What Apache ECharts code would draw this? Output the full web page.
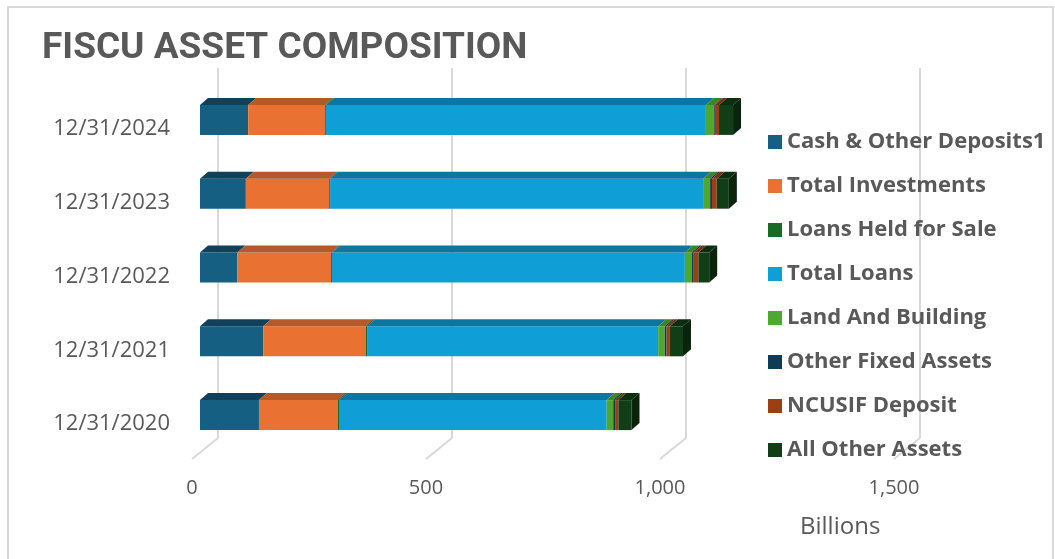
<!DOCTYPE html>
<html>
<head>
<meta charset="utf-8">
<script src="https://cdn.jsdelivr.net/npm/echarts@6/dist/echarts.min.js"></script>
<style>
  body { margin: 0; background: #fff; }
  #main { width: 1055px; height: 559px; }
</style>
</head>
<body>
<div id="main"></div>
<script>
var dates = ["12/31/2020", "12/31/2021", "12/31/2022", "12/31/2023", "12/31/2024"];
var cash = [126, 135, 80, 98, 103];
var investments = [168, 219, 200, 178, 164];
var loansHeldForSale = [3, 3, 2, 2, 2];
var totalLoans = [572, 622, 754, 797, 812];
var landBuilding = [14, 14, 15, 15, 17];
var otherFixed = [4, 4, 4, 4, 2];
var ncusif = [7, 7, 10, 10, 9];
var allOther = [28, 28, 23, 26, 30];
var xTicks = [0, 500, 1000, 1500];

var groups = [
  { name: "Cash & Other Deposits1", values: cash, color: "#156082", top: "#11405a" },
  { name: "Total Investments", values: investments, color: "#E97132", top: "#b3592a" },
  { name: "Loans Held for Sale", values: loansHeldForSale, color: "#196B24", top: "#124d1a" },
  { name: "Total Loans", values: totalLoans, color: "#0F9ED5", top: "#0c76a0" },
  { name: "Land And Building", values: landBuilding, color: "#4EA72E", top: "#3b8623" },
  { name: "Other Fixed Assets", values: otherFixed, color: "#0F3B57", top: "#0a2a3e" },
  { name: "NCUSIF Deposit", values: ncusif, color: "#9B4013", top: "#7a300e" },
  { name: "All Other Assets", values: allOther, color: "#113E17", top: "#0c2e10", side: "#0a240c" }
];

var textColor = "#595959";
var lineColor = "#d9d9d9";

function segRenderer(top, side) {
  return function (params, api) {
    var idx = api.value(2);
    var p0 = api.coord([api.value(0), idx]);
    var p1 = api.coord([api.value(1), idx]);
    var h = 30, dx = 8, dy = 7;
    var x0 = p0[0], x1 = p1[0];
    var yt = p0[1] - h / 2, yb = p0[1] + h / 2;
    var children = [
      { type: "rect", shape: { x: x0, y: yt, width: x1 - x0, height: h }, style: { fill: api.visual("color") } },
      { type: "polygon", shape: { points: [[x0, yt], [x1, yt], [x1 + dx, yt - dy], [x0 + dx, yt - dy]] }, style: { fill: top } }
    ];
    if (side) {
      children.push({ type: "polygon", shape: { points: [[x1, yt], [x1 + dx, yt - dy], [x1 + dx, yb - dy], [x1, yb]] }, style: { fill: side } });
    }
    return { type: "group", children: children };
  };
}

// stack the segments
var running = dates.map(function () { return 0; });
var barSeries = groups.map(function (g) {
  var data = g.values.map(function (v, i) {
    var item = [running[i], running[i] + v, i];
    running[i] += v;
    return item;
  });
  return {
    name: g.name,
    type: "custom",
    xAxisIndex: 1,
    yAxisIndex: 1,
    itemStyle: { color: g.color },
    renderItem: segRenderer(g.top, g.side),
    encode: { x: [0, 1], y: 2 },
    data: data,
    z: 3
  };
});

// slanted floor lines under the back wall gridlines
var floorSeries = {
  type: "custom",
  xAxisIndex: 0,
  yAxisIndex: 0,
  silent: true,
  renderItem: function (params, api) {
    var p = api.coord([api.value(0), 0]);
    return {
      type: "line",
      shape: { x1: p[0], y1: p[1], x2: p[0] - 26, y2: p[1] + 21 },
      style: { stroke: lineColor, lineWidth: 2 }
    };
  },
  data: xTicks.map(function (v) { return [v, 0]; }),
  z: 1
};

var option = {
  animation: false,
  title: [
    {
      text: "FISCU ASSET COMPOSITION",
      left: 42,
      top: 30,
      padding: 0,
      textStyle: { fontFamily: "Roboto", fontWeight: "bold", fontSize: 37, color: textColor }
    },
    {
      text: "Billions",
      left: 800,
      top: 515,
      padding: 0,
      textStyle: { fontFamily: "Open Sans", fontWeight: "normal", fontSize: 24, color: textColor }
    }
  ],
  graphic: [
    {
      type: "rect",
      shape: { x: 8, y: 7, width: 1045, height: 600 },
      style: { fill: "none", stroke: lineColor, lineWidth: 2 },
      silent: true
    }
  ],
  legend: {
    orient: "vertical",
    left: 763,
    top: 126,
    icon: "rect",
    itemWidth: 14,
    itemHeight: 14,
    itemGap: 22,
    textStyle: { fontFamily: "Open Sans", fontWeight: "bold", fontSize: 22, lineHeight: 20, color: textColor },
    data: groups.map(function (g) { return g.name; })
  },
  grid: [
    { left: 218, right: 135, top: 68, bottom: 121 },
    { left: 200, right: 153, top: 83, bottom: 107 },
    { left: 192, right: 161, top: 68, bottom: 121 }
  ],
  xAxis: [
    {
      gridIndex: 0, type: "value", min: 0, max: 1500, interval: 500,
      axisLine: { show: false }, axisTick: { show: false }, axisLabel: { show: false },
      splitLine: { show: true, lineStyle: { color: lineColor, width: 2 } }
    },
    {
      gridIndex: 1, type: "value", min: 0, max: 1500, interval: 500,
      axisLine: { show: false }, axisTick: { show: false }, axisLabel: { show: false },
      splitLine: { show: false }
    },
    {
      gridIndex: 2, type: "value", min: 0, max: 1500, interval: 500,
      axisLine: { show: false }, axisTick: { show: false }, splitLine: { show: false },
      axisLabel: { margin: 40, fontFamily: "Open Sans", fontSize: 20, color: textColor }
    }
  ],
  yAxis: [
    { gridIndex: 0, type: "value", min: 0, max: 1, show: false },
    {
      gridIndex: 1, type: "category", data: dates,
      axisLine: { show: false }, axisTick: { show: false }, splitLine: { show: false },
      axisLabel: { margin: 30, verticalAlign: "top", lineHeight: 18, fontFamily: "Open Sans", fontSize: 22, color: textColor }
    },
    { gridIndex: 2, type: "value", min: 0, max: 1, show: false }
  ],
  series: [floorSeries].concat(barSeries)
};

var myChart = echarts.init(document.getElementById("main"));
myChart.setOption(option);
</script>
</body>
</html>
